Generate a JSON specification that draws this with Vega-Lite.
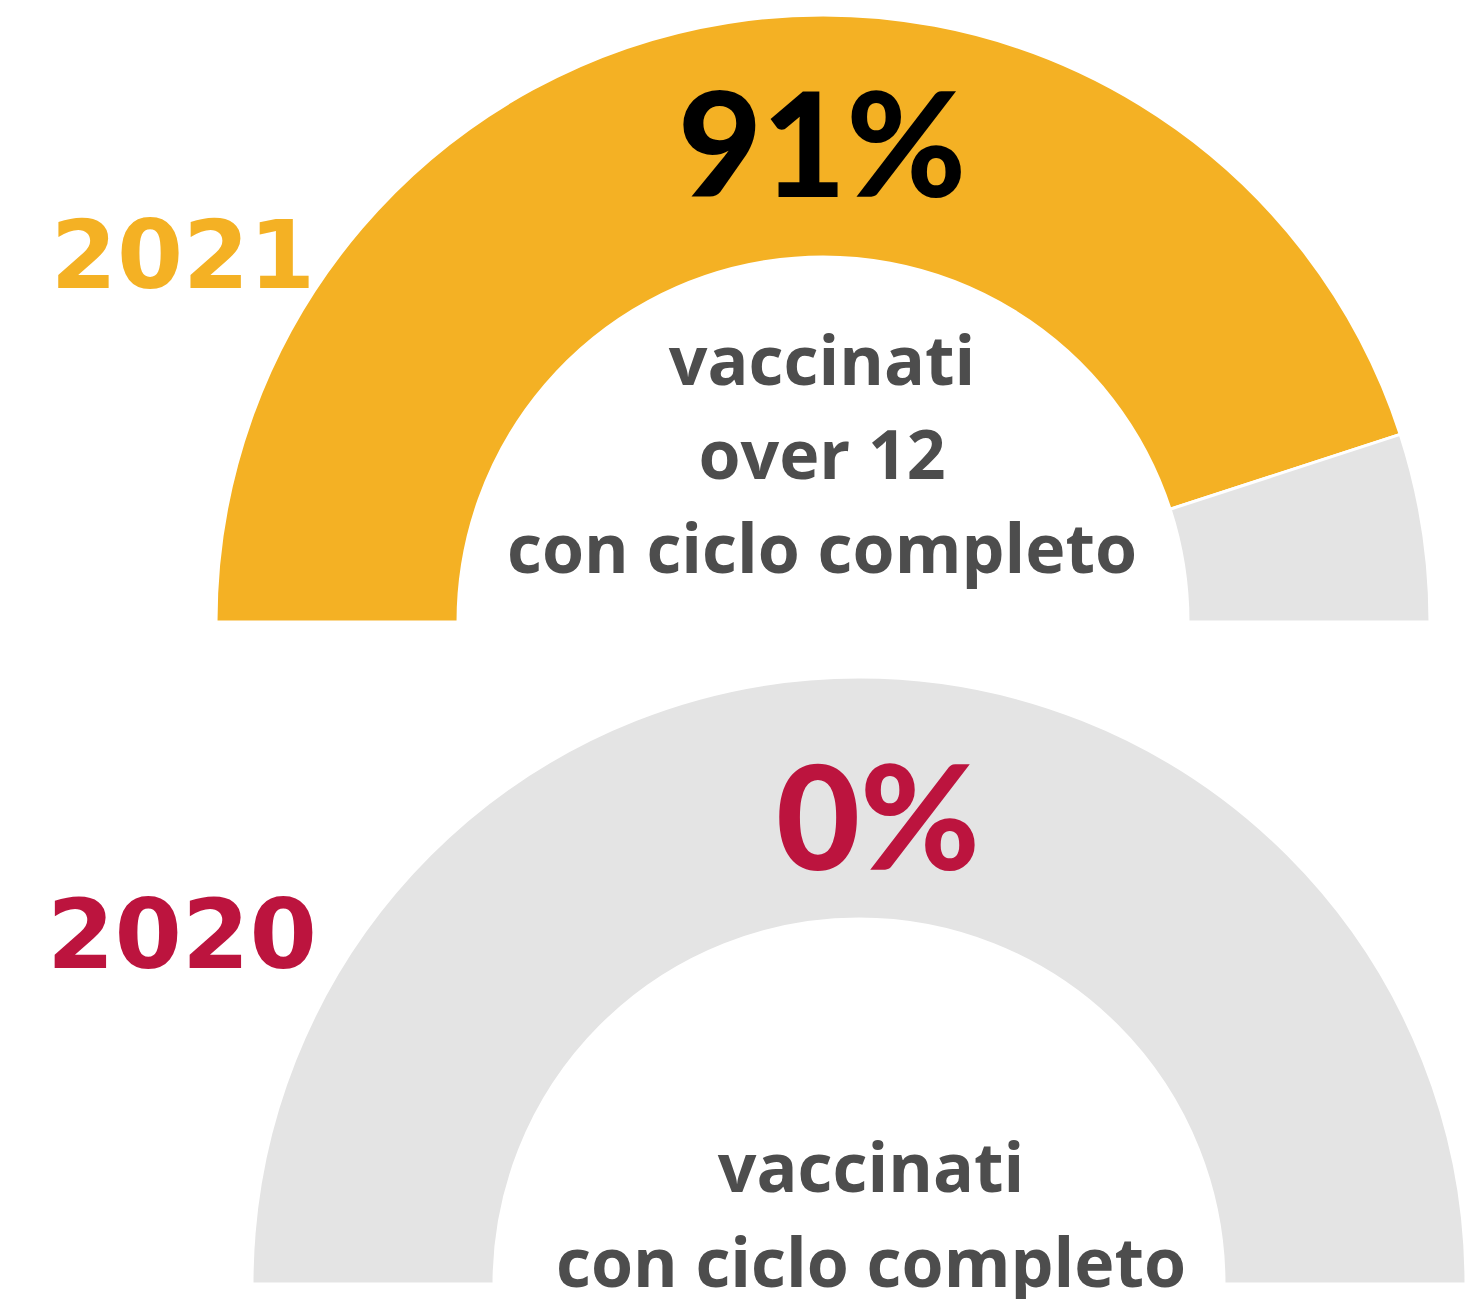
{
  "$schema": "https://vega.github.io/schema/vega-lite/v6.json",
  "width": 1466,
  "height": 1299,
  "autosize": "none",
  "padding": 0,
  "background": "white",
  "config": {"view": {"stroke": null}},
  "datasets": {
    "segments": [
      {"year": "2021", "segment": "vaccinati", "value": 90},
      {"year": "2021", "segment": "non vaccinati", "value": 10},
      {"year": "2020", "segment": "vaccinati", "value": 0},
      {"year": "2020", "segment": "non vaccinati", "value": 100}
    ],
    "labels": [
      {"year": "2021", "pct": "91%", "desc": ["vaccinati", "over 12", "con ciclo completo"]},
      {"year": "2020", "pct": "0%", "desc": ["vaccinati", "con ciclo completo"]}
    ]
  },
  "layer": [
    {
      "data": {"name": "segments"},
      "transform": [{"filter": "datum.year == '2021'"}],
      "mark": {"type": "arc", "outerRadius": 607, "innerRadius": 365, "stroke": "white", "strokeWidth": 3},
      "encoding": {
        "x": {"field": "year", "type": "nominal", "scale": {"type": "point", "domain": ["2021", "2020"], "range": [823, 859], "padding": 0}, "axis": null},
        "y": {"field": "year", "type": "nominal", "scale": {"type": "point", "domain": ["2021", "2020"], "range": [622, 1284], "padding": 0}, "axis": null},
        "theta": {"field": "value", "type": "quantitative", "stack": true, "scale": {"domain": [0, 100], "range": [-1.5707963, 1.5707963]}},
        "color": {"field": "segment", "type": "nominal", "scale": {"domain": ["vaccinati", "non vaccinati"], "range": ["#f4b124", "#e4e4e4"]}, "legend": null},
        "order": {"field": "segment", "sort": "descending"}
      }
    },
    {
      "data": {"name": "segments"},
      "transform": [{"filter": "datum.year == '2020' && datum.value > 0"}],
      "mark": {"type": "arc", "outerRadius": 607, "innerRadius": 365, "stroke": "white", "strokeWidth": 3},
      "encoding": {
        "x": {"field": "year", "type": "nominal", "scale": {"type": "point", "domain": ["2021", "2020"], "range": [823, 859], "padding": 0}, "axis": null},
        "y": {"field": "year", "type": "nominal", "scale": {"type": "point", "domain": ["2021", "2020"], "range": [622, 1284], "padding": 0}, "axis": null},
        "theta": {"field": "value", "type": "quantitative", "stack": true, "scale": {"domain": [0, 100], "range": [-1.5707963, 1.5707963]}},
        "color": {"field": "segment", "type": "nominal", "scale": {"domain": ["vaccinati", "non vaccinati"], "range": ["#f4b124", "#e4e4e4"]}, "legend": null},
        "order": {"field": "segment", "sort": "descending"}
      }
    },
    {
      "data": {"name": "labels"},
      "transform": [{"filter": "datum.year == '2021'"}],
      "layer": [
        {
          "mark": {"type": "text", "font": "Lato", "fontWeight": 900, "fontSize": 145, "color": "#000000", "align": "center", "baseline": "alphabetic", "dx": -1, "dy": -425},
          "encoding": {"text": {"field": "pct"}}
        },
        {
          "mark": {"type": "text", "font": "DejaVu Sans", "fontWeight": "bold", "fontSize": 95, "color": "#f4b124", "align": "center", "baseline": "alphabetic", "dx": -640, "dy": -334},
          "encoding": {"text": {"field": "year"}}
        },
        {
          "mark": {"type": "text", "font": "Open Sans", "fontWeight": 700, "fontSize": 68, "lineHeight": 94, "color": "#4d4d4d", "align": "center", "baseline": "alphabetic", "dx": -1, "dy": -237},
          "encoding": {"text": {"field": "desc"}}
        }
      ],
      "encoding": {
        "x": {"field": "year", "type": "nominal", "scale": {"type": "point", "domain": ["2021", "2020"], "range": [823, 859], "padding": 0}, "axis": null},
        "y": {"field": "year", "type": "nominal", "scale": {"type": "point", "domain": ["2021", "2020"], "range": [622, 1284], "padding": 0}, "axis": null}
      }
    },
    {
      "data": {"name": "labels"},
      "transform": [{"filter": "datum.year == '2020'"}],
      "layer": [
        {
          "mark": {"type": "text", "font": "Lato", "fontWeight": 900, "fontSize": 145, "color": "#bc143e", "align": "center", "baseline": "alphabetic", "dx": 19, "dy": -414},
          "encoding": {"text": {"field": "pct"}}
        },
        {
          "mark": {"type": "text", "font": "DejaVu Sans", "fontWeight": "bold", "fontSize": 97, "color": "#bc143e", "align": "center", "baseline": "alphabetic", "dx": -677, "dy": -316},
          "encoding": {"text": {"field": "year"}}
        },
        {
          "mark": {"type": "text", "font": "Open Sans", "fontWeight": 700, "fontSize": 68, "lineHeight": 95, "color": "#4d4d4d", "align": "center", "baseline": "alphabetic", "dx": 12, "dy": -92},
          "encoding": {"text": {"field": "desc"}}
        }
      ],
      "encoding": {
        "x": {"field": "year", "type": "nominal", "scale": {"type": "point", "domain": ["2021", "2020"], "range": [823, 859], "padding": 0}, "axis": null},
        "y": {"field": "year", "type": "nominal", "scale": {"type": "point", "domain": ["2021", "2020"], "range": [622, 1284], "padding": 0}, "axis": null}
      }
    }
  ]
}
